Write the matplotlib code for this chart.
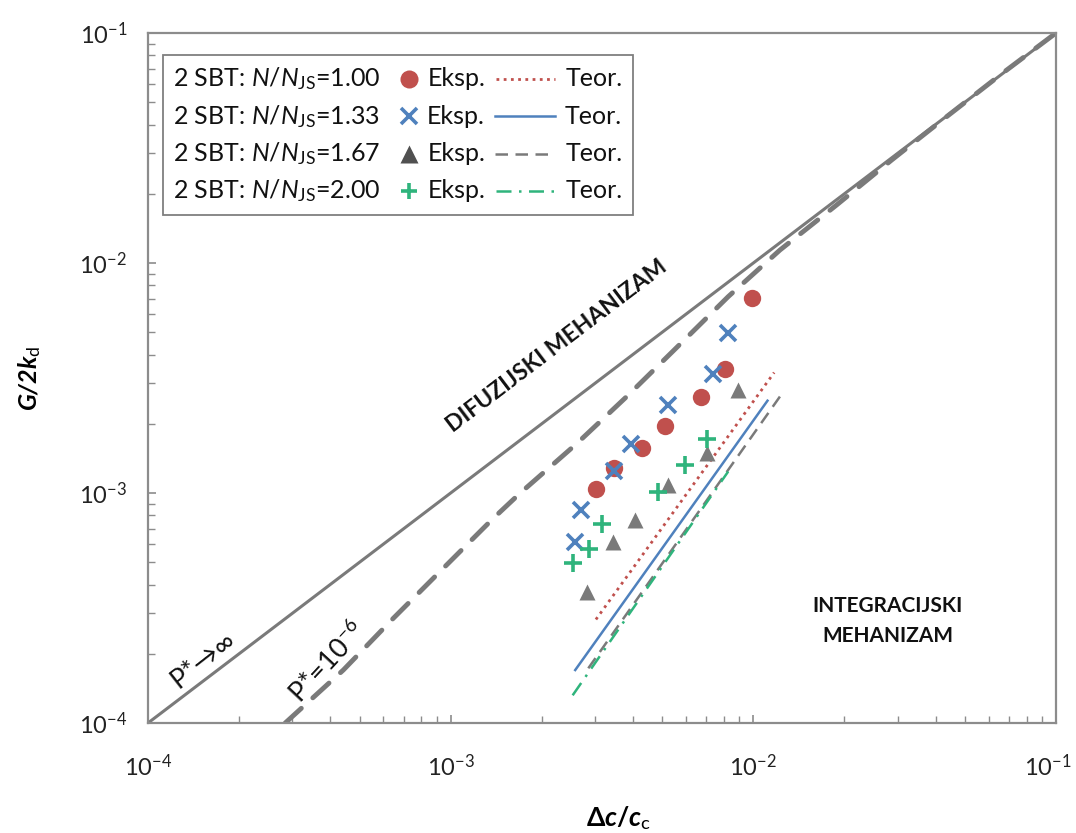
import numpy as np
import matplotlib
matplotlib.use('Agg')
import matplotlib.pyplot as plt
import matplotlib.transforms as mtrans
from matplotlib.lines import Line2D
from matplotlib.offsetbox import TextArea, DrawingArea, HPacker, VPacker, AnchoredOffsetbox

plt.rcParams['font.family'] = ['Lato', 'DejaVu Sans']
plt.rcParams['mathtext.fontset'] = 'custom'
plt.rcParams['mathtext.rm'] = 'Lato'
plt.rcParams['mathtext.it'] = 'Lato:italic'
plt.rcParams['mathtext.bf'] = 'Lato:bold'
plt.rcParams['mathtext.bfit'] = 'Lato:italic:bold'

# experimental points, 2 SBT, N/N_JS
red_x = [0.00303, 0.00346, 0.00430, 0.00510, 0.00670, 0.00807, 0.00989]
red_y = [0.00104, 0.00129, 0.00157, 0.00196, 0.00261, 0.00345, 0.00706]
blue_x = [0.00258, 0.00269, 0.00346, 0.00394, 0.00524, 0.00738, 0.00826]
blue_y = [0.000612, 0.000843, 0.00125, 0.00163, 0.00241, 0.00329, 0.00494]
gray_x = [0.00282, 0.00343, 0.00408, 0.00524, 0.00705, 0.00887]
gray_y = [0.000372, 0.000614, 0.000763, 0.00108, 0.00149, 0.00281]
green_x = [0.00254, 0.00287, 0.00317, 0.00483, 0.00594, 0.00702]
green_y = [0.000498, 0.000569, 0.000731, 0.00101, 0.00132, 0.00171]

# theoretical lines
teor_red_x = [0.00302, 0.01172]
teor_red_y = [0.000282, 0.00334]
teor_blue_x = [0.00258, 0.01114]
teor_blue_y = [0.000170, 0.00252]
teor_gray_x = [0.00285, 0.0125]
teor_gray_y = [0.000173, 0.00273]
teor_green_x = [0.00253, 0.00826]
teor_green_y = [0.000132, 0.00124]

# limit lines
pinf_x = [1e-4, 1e-1]
pinf_y = [1e-4, 1e-1]
p6_x = [2.84e-4, 4.42e-4, 6.46e-4, 9.46e-4, 1.383e-3, 1.694e-3, 2.61e-3, 3.81e-3,
        5.44e-3, 8.26e-3, 0.01225, 0.01884, 0.02866, 0.0435, 0.0669, 0.1]
p6_y = [1e-4, 1.70e-4, 2.85e-4, 4.71e-4, 7.76e-4, 9.97e-4, 1.64e-3, 2.62e-3,
        4.15e-3, 7.14e-3, 0.01139, 0.01787, 0.02805, 0.04325, 0.0672, 0.1]

ratios = ['1.00', '1.33', '1.67', '2.00']
tick_vals = [1e-4, 1e-3, 1e-2, 1e-1]
tick_labels = [r'$\mathregular{10^{-4}}$', r'$\mathregular{10^{-3}}$',
               r'$\mathregular{10^{-2}}$', r'$\mathregular{10^{-1}}$']

RED = '#c0504d'
BLUE = '#4f81bd'
GRAY = '#7a7a7a'
GREEN = '#2fb47c'
AXC = '#8c8c8c'

fig = plt.figure(figsize=(10.76, 8.33), dpi=100)
ax = fig.add_axes([0.1375, 0.132, 0.8439, 0.8284])
ax.set_xscale('log')
ax.set_yscale('log')
ax.set_xlim(1e-4, 1e-1)
ax.set_ylim(1e-4, 1e-1)

ax.plot(pinf_x, pinf_y, color=GRAY, lw=2.2)
ax.plot(p6_x, p6_y, color=GRAY, lw=3.5, dashes=(4.5, 3.2), dash_capstyle='round')

ax.plot(teor_red_x, teor_red_y, color=RED, lw=2.0, ls=(0, (1, 1.6)))
ax.plot(teor_blue_x, teor_blue_y, color=BLUE, lw=1.8)
ax.plot(teor_gray_x, teor_gray_y, color=GRAY, lw=1.8, dashes=(5, 3))
ax.plot(teor_green_x, teor_green_y, color=GREEN, lw=1.8, dashes=(6, 3, 1, 3))

ax.plot(red_x, red_y, 'o', color=RED, ms=12.5, mec='none')
ax.plot(blue_x, blue_y, 'x', color=BLUE, ms=12, mew=2.6)
ax.plot(gray_x, gray_y, '^', color=GRAY, ms=12, mec='none')
ax.plot(green_x, green_y, '+', color=GREEN, ms=13, mew=2.6)

for sp in ax.spines.values():
    sp.set_color(AXC)
    sp.set_linewidth(1.6)
ax.tick_params(which='both', direction='in', color=AXC, top=False, right=False)
ax.tick_params(which='major', length=6, width=1.2)
ax.tick_params(which='minor', length=5, width=1.0)
ax.tick_params(axis='x', which='major', pad=22, labelsize=17, labelcolor='#222222')
ax.tick_params(axis='y', which='major', pad=15, labelsize=17, labelcolor='#222222')
ax.set_xticks(tick_vals)
ax.set_xticklabels(tick_labels)
ax.set_yticks(tick_vals)
ax.set_yticklabels(tick_labels)
# last x label pushed to the left edge of the image, as in the original
last = ax.get_xticklabels()[-1]
last.set_horizontalalignment('right')
last.set_transform(last.get_transform() + mtrans.ScaledTranslation(0.16, 0, fig.dpi_scale_trans))

ax.set_xlabel(r'$\mathbf{\Delta}\mathbfit{c}\mathbf{/}\mathbfit{c}_{\mathrm{c}}$', fontsize=19)
ax.xaxis.set_label_coords(0.518, -0.118)
ax.set_ylabel(r'$\mathbfit{G/2k}_{\mathrm{d}}$', fontsize=18)
ax.yaxis.set_label_coords(-0.116, 0.5)

ax.text(2.245e-3, 4.36e-3, 'DIFUZIJSKI MEHANIZAM', rotation=37.2, rotation_mode='anchor',
        ha='center', va='center', fontsize=16.5, fontweight='bold', color='#111111')
ax.text(0.02786, 2.77e-4, 'INTEGRACIJSKI\nMEHANIZAM', ha='center', va='center',
        fontsize=15, fontweight='bold', color='#111111', linespacing=1.6)
ax.text(1.52e-4, 1.88e-4, 'P*\u2192\u221e', rotation=38, rotation_mode='anchor',
        ha='center', va='center', fontsize=19.5, color='#111111')
ax.text(3.93e-4, 1.84e-4, r'P*=10$^{-6}$', rotation=47, rotation_mode='anchor',
        ha='center', va='center', fontsize=19.5, color='#111111')

# legend built as a table: label | marker Eksp. | line Teor.
styles = [
    (dict(marker='o', color=RED, ms=13, mec='none', ls='none'), dict(color=RED, lw=2.0, ls=(0, (1, 1.6)))),
    (dict(marker='x', color=BLUE, ms=12, mew=2.6, ls='none'), dict(color=BLUE, lw=1.8)),
    (dict(marker='^', color='#505050', ms=13, mec='none', ls='none'), dict(color=GRAY, lw=1.8, dashes=(5, 3))),
    (dict(marker='+', color=GREEN, ms=12, mew=2.6, ls='none'), dict(color=GREEN, lw=1.8, dashes=(6, 3, 1, 3))),
]
fs = 18
rows = []
for r, (mk, ln) in zip(ratios, styles):
    lab = TextArea('2 SBT: $N/N_{\\mathrm{JS}}$=' + r, textprops=dict(fontsize=fs, color='#111111'))
    dm = DrawingArea(22, 16, 0, 0)
    dm.add_artist(Line2D([14.8], [8], **mk))
    eks = TextArea('Eksp.', textprops=dict(fontsize=fs, color='#111111'))
    dl = DrawingArea(46, 16, 0, 0)
    dl.add_artist(Line2D([1.5, 44.5], [8, 8], **ln))
    teo = TextArea('Teor.', textprops=dict(fontsize=fs, color='#111111'))
    rows.append(HPacker(children=[lab, dm, eks, dl, teo], align='center', pad=0, sep=5.8))
box = VPacker(children=rows, align='left', pad=0, sep=7.5)
leg = AnchoredOffsetbox(loc='upper left', child=box, pad=0.75, borderpad=0, frameon=True,
                        bbox_to_anchor=(0.0165, 0.968), bbox_transform=ax.transAxes)
leg.patch.set_edgecolor('#7f7f7f')
leg.patch.set_linewidth(1.3)
leg.patch.set_boxstyle('square', pad=0)
ax.add_artist(leg)

fig.savefig('out.png', dpi=100)
